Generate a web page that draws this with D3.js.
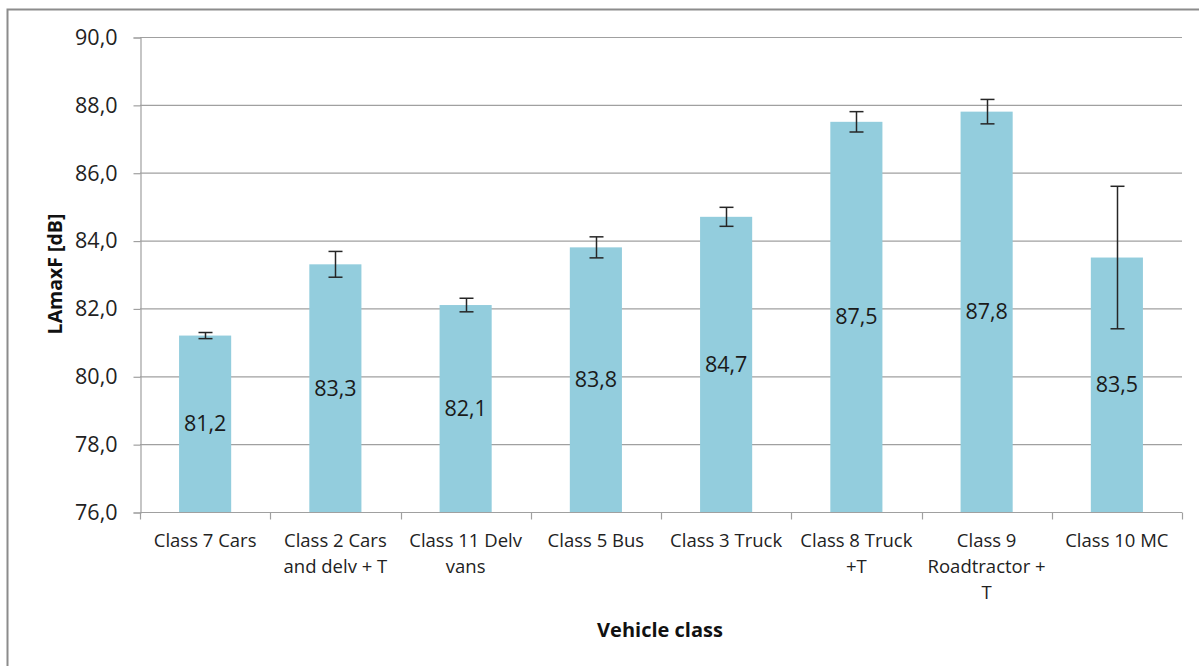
<!DOCTYPE html>
<html>
<head>
<meta charset="utf-8">
<script src="https://cdn.jsdelivr.net/npm/d3@7"></script>
<style>
body{margin:0;background:#fff;}
text{font-family:"Open Sans",sans-serif;}
</style>
</head>
<body>
<div id="chart"></div>
<script>
const w = 1199;
const h = 666;

// data
const classes = [
  ["Class 7 Cars"],
  ["Class 2 Cars", "and delv + T"],
  ["Class 11 Delv", "vans"],
  ["Class 5 Bus"],
  ["Class 3 Truck"],
  ["Class 8 Truck", "+T"],
  ["Class 9", "Roadtractor +", "T"],
  ["Class 10 MC"]
];
const levels = [81.2, 83.3, 82.1, 83.8, 84.7, 87.5, 87.8, 83.5];
const errors = [0.09, 0.38, 0.2, 0.31, 0.28, 0.3, 0.36, 2.1];
const yTicks = [76, 78, 80, 82, 84, 86, 88, 90];

// plot area
const pLeft = 140, pRight = 1182, pTop = 37, pBottom = 512;

const svg = d3.select("#chart")
.append('svg')
.attr('width', w)
.attr('height', h);

// outer chart frame
svg.append('rect')
.attr('x', 7.5).attr('y', 9.5)
.attr('width', 1210).attr('height', 680)
.attr('fill', 'none')
.attr('stroke', '#8c8c8c')
.attr('stroke-width', 2);

const idx = d3.range(classes.length);
const xScale = d3.scaleBand()
.domain(idx)
.range([pLeft, pRight])
.paddingInner(0.6)
.paddingOuter(0.3);
const xOuter = d3.scaleBand().domain(idx).range([pLeft, pRight]);

const yScale = d3.scaleLinear()
.domain([76, 90])
.range([pBottom, pTop]);

//gridlines
svg.append('g')
.selectAll('line')
.data(yTicks.slice(1))
.enter()
.append('line')
.attr('x1', pLeft).attr('x2', pRight)
.attr('y1', d => yScale(d) + 0.5).attr('y2', d => yScale(d) + 0.5)
.attr('stroke', '#a0a0a0')
.attr('stroke-width', 1.2);

//y axis
const yAxis = d3.axisLeft(yScale)
.tickValues(yTicks)
.tickSize(7)
.tickPadding(16)
.tickFormat(d => d3.format('.1f')(d).replace('.', ','));
const gy = svg.append('g')
.attr('transform', `translate(${pLeft + 0.5},0.5)`)
.call(yAxis);
gy.select('.domain').attr('stroke', '#a0a0a0').attr('stroke-width', 1.2);
gy.selectAll('.tick line').attr('stroke', '#a0a0a0').attr('stroke-width', 1.2);
gy.selectAll('.tick text')
.attr('font-size', 21.5)
.attr('fill', '#222')
.attr('font-family', '"Open Sans",sans-serif');

//bars
svg.append('g')
.selectAll('rect')
.data(levels)
.enter()
.append('rect')
.attr('x', (d, i) => xScale(i))
.attr('y', d => yScale(d))
.attr('width', xScale.bandwidth())
.attr('height', d => pBottom - yScale(d))
.attr('fill', '#93cddd');

//x axis
const xg = svg.append('g').attr('transform', `translate(0,${pBottom + 0.5})`);
xg.append('line')
.attr('x1', pLeft).attr('x2', pRight)
.attr('stroke', '#a0a0a0').attr('stroke-width', 1.2);
xg.selectAll('line.tk')
.data(d3.range(classes.length + 1))
.enter()
.append('line')
.attr('class', 'tk')
.attr('x1', i => Math.round(i < classes.length ? xOuter(i) : pRight) + 0.5)
.attr('x2', i => Math.round(i < classes.length ? xOuter(i) : pRight) + 0.5)
.attr('y1', 0).attr('y2', 7)
.attr('stroke', '#a0a0a0').attr('stroke-width', 1.2);

const labels = xg.selectAll('text.cat')
.data(classes)
.enter()
.append('text')
.attr('class', 'cat')
.attr('text-anchor', 'middle')
.attr('font-size', 18.5)
.attr('fill', '#222');
labels.each(function(lines, i) {
  d3.select(this).selectAll('tspan')
  .data(lines)
  .enter()
  .append('tspan')
  .attr('x', xScale(i) + xScale.bandwidth() / 2)
  .attr('y', (d, j) => 34 + j * 26)
  .text(d => d);
});

//error bars
const eb = svg.append('g')
.selectAll('g')
.data(levels)
.enter()
.append('g')
.attr('stroke', '#262626')
.attr('stroke-width', 1.5);
const cx = i => Math.round(xScale(i) + xScale.bandwidth() / 2) + 0.5;
eb.append('line')
.attr('x1', (d, i) => cx(i)).attr('x2', (d, i) => cx(i))
.attr('y1', (d, i) => yScale(d + errors[i]))
.attr('y2', (d, i) => yScale(d - errors[i]));
eb.append('line')
.attr('x1', (d, i) => cx(i) - 7).attr('x2', (d, i) => cx(i) + 7)
.attr('y1', (d, i) => yScale(d + errors[i]))
.attr('y2', (d, i) => yScale(d + errors[i]));
eb.append('line')
.attr('x1', (d, i) => cx(i) - 7).attr('x2', (d, i) => cx(i) + 7)
.attr('y1', (d, i) => yScale(d - errors[i]))
.attr('y2', (d, i) => yScale(d - errors[i]));

//value labels (centered in bar)
svg.append('g')
.selectAll('text')
.data(levels)
.enter()
.append('text')
.attr('x', (d, i) => xScale(i) + xScale.bandwidth() / 2)
.attr('y', d => (yScale(d) + pBottom) / 2)
.attr('dy', '0.35em')
.attr('text-anchor', 'middle')
.attr('font-size', 21.5)
.attr('fill', '#1a1a1a')
.text(d => d3.format('.1f')(d).replace('.', ','));

//axis titles
svg.append('text')
.attr('transform', `translate(62,274) rotate(-90)`)
.attr('text-anchor', 'middle')
.attr('font-size', 19.5)
.attr('font-weight', 'bold')
.attr('fill', '#111')
.text('LAmaxF [dB]');
svg.append('text')
.attr('x', 660)
.attr('y', 637)
.attr('text-anchor', 'middle')
.attr('font-size', 20)
.attr('font-weight', 'bold')
.attr('fill', '#111')
.text('Vehicle class');
</script>
</body>
</html>
